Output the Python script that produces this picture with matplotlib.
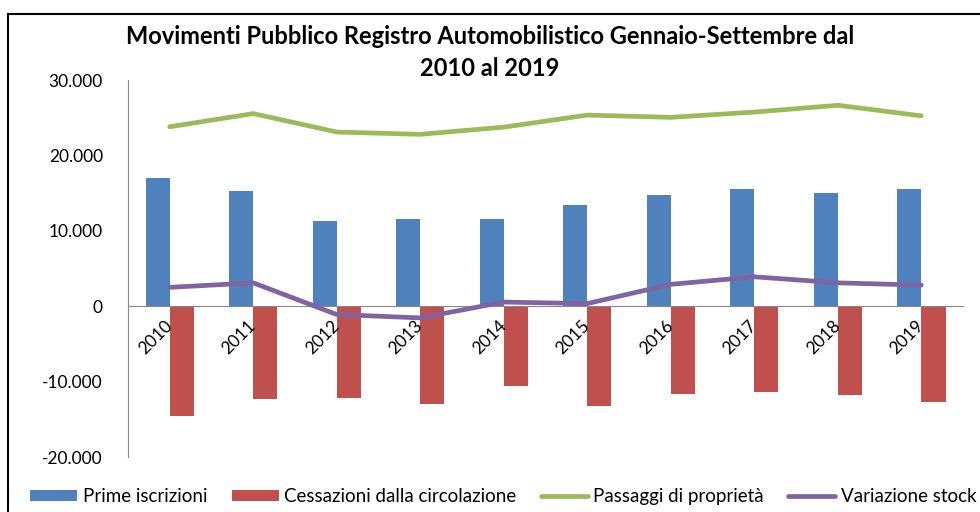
import numpy as np
import matplotlib
matplotlib.use('Agg')
import matplotlib.pyplot as plt
from matplotlib.patches import Rectangle
from matplotlib.ticker import FuncFormatter

# dati
anni = ['2010', '2011', '2012', '2013', '2014', '2015', '2016', '2017', '2018', '2019']
prime_iscrizioni = [17000, 15250, 11300, 11550, 11550, 13400, 14700, 15500, 14950, 15500]
cessazioni = [-14550, -12300, -12200, -13000, -10600, -13250, -11650, -11400, -11750, -12750]
passaggi = [23800, 25550, 23100, 22800, 23750, 25350, 25050, 25750, 26650, 25250]
variazione_stock = [2500, 3100, -1100, -1550, 550, 350, 2900, 3900, 3100, 2800]

titolo = 'Movimenti Pubblico Registro Automobilistico Gennaio-Settembre dal\n2010 al 2019'

plt.rcParams['font.family'] = ['Lato', 'DejaVu Sans']

fig = plt.figure(figsize=(9.8, 5.12), dpi=100)
ax = fig.add_axes([0.1306, 0.1074, 0.8521, 0.7363])

x = np.arange(len(anni))
w = 0.29
b1 = ax.bar(x - w / 2, prime_iscrizioni, w, color='#4F81BD', zorder=2)
b2 = ax.bar(x + w / 2, cessazioni, w, color='#C0504D', zorder=2)
l1, = ax.plot(x, passaggi, color='#9BBB59', lw=3.4, solid_capstyle='round', zorder=3)
l2, = ax.plot(x, variazione_stock, color='#8064A2', lw=3.4, solid_capstyle='round', zorder=3)

ax.set_xlim(-0.5, len(anni) - 0.5)
ax.set_ylim(-20000, 30000)
ax.set_yticks(range(-20000, 30001, 10000))
ax.yaxis.set_major_formatter(FuncFormatter(lambda v, p: '{:,.0f}'.format(v).replace(',', '.')))

# asse x sullo zero, come in Excel
ax.set_axisbelow(False)
ax.spines['bottom'].set_position(('data', 0))
ax.spines['top'].set_visible(False)
ax.spines['right'].set_visible(False)
ax.spines['bottom'].set_color('#888888')
ax.spines['left'].set_color('#888888')
ax.set_xticks(x)
ax.set_xticklabels(anni, rotation=45, ha='right', va='center', rotation_mode='anchor')
ax.tick_params(axis='x', length=0, pad=12, labelsize=12.5)
ax.tick_params(axis='y', length=0, pad=18, labelsize=12.5)

fig.text(0.5, 0.897, titolo, ha='center', va='center', fontsize=17,
         fontweight='bold', linespacing=1.45)

fig.legend([b1, b2, l1, l2],
           ['Prime iscrizioni', 'Cessazioni dalla circolazione',
            'Passaggi di proprietà', 'Variazione stock'],
           loc='center left', bbox_to_anchor=(0.031, 0.03), ncol=4, frameon=False,
           fontsize=13.5, handlelength=2.5, handleheight=0.6, handletextpad=0.3,
           columnspacing=1.3, borderaxespad=0, borderpad=0)

# cornice del grafico
fig.patches.append(Rectangle((8 / 980, -0.05), 1.2, 1 - 14 / 512 + 0.05,
                             transform=fig.transFigure, fill=False,
                             edgecolor='black', lw=1.5))

plt.savefig('out.png')
